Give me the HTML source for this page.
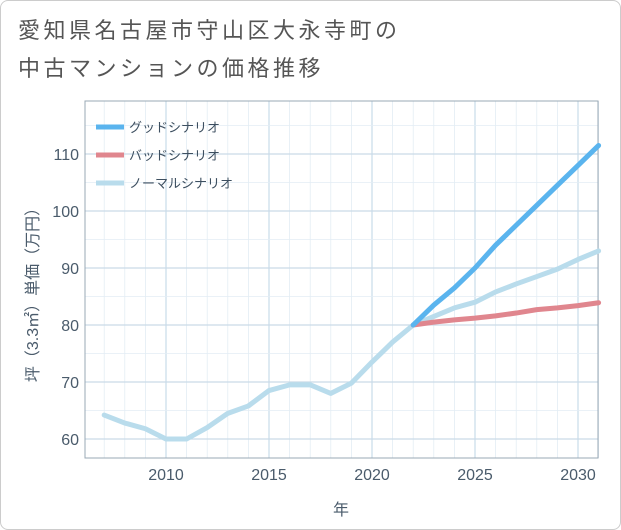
<!DOCTYPE html>
<html><head><meta charset="utf-8"><style>
body{margin:0;background:#fff;}
#wrap{position:relative;width:619px;height:528px;border:1px solid #ccc;border-radius:8px;background:#fff;overflow:hidden;font-family:"Liberation Sans","Noto Sans CJK JP",sans-serif;}
#title{position:absolute;left:17px;top:11px;font-size:22px;line-height:38px;letter-spacing:3.5px;color:#555;}
</style></head><body>
<div id="wrap">
<div id="title">愛知県名古屋市守山区大永寺町の<br>中古マンションの価格推移</div>
<svg id="chart" width="621" height="530" style="position:absolute;left:0;top:0"></svg>
</div>
<script>
const years=[2007,2008,2009,2010,2011,2012,2013,2014,2015,2016,2017,2018,2019,2020,2021,2022,2023,2024,2025,2026,2027,2028,2029,2030,2031];
const normalVals=[64.2,62.8,61.8,60,60,62,64.5,65.8,68.5,69.5,69.5,68,69.8,73.5,77,80,81.5,83,84,85.8,87.2,88.5,89.8,91.5,93];
const futureYears=[2022,2023,2024,2025,2026,2027,2028,2029,2030,2031];
const goodVals=[80,83.5,86.5,90,94,97.5,101,104.5,108,111.5];
const badVals=[80,80.5,80.9,81.2,81.6,82.1,82.7,83,83.4,83.9];
const xTicks=[2010,2015,2020,2025,2030];
const yTicks=[60,70,80,90,100,110];
const legendLabels=["グッドシナリオ","バッドシナリオ","ノーマルシナリオ"];
const legendColors=["#5ab4ee","#e0868e","#b9dcec"];

const L=84,R=597,T=100,B=457;
const x=v=>165+(v-2010)*20.6;
const y=v=>438-(v-60)*5.7;
const svg=document.getElementById('chart');
const NS='http://www.w3.org/2000/svg';
function mk(t,a){const e=document.createElementNS(NS,t);for(const k in a)e.setAttribute(k,a[k]);svg.appendChild(e);return e;}
for(let yr=2007;yr<=2031;yr++){
  const g=mk('line',{x1:x(yr),x2:x(yr),y1:T,y2:B,stroke:xTicks.includes(yr)?'#c9dbe8':'#e3edf4','stroke-width':xTicks.includes(yr)?1.2:0.8});
  
  
}
for(let v=60;v<=115;v+=5){
  const g=mk('line',{x1:L,x2:R,y1:y(v),y2:y(v),stroke:yTicks.includes(v)?'#c9dbe8':'#e3edf4','stroke-width':yTicks.includes(v)?1.2:0.8});
  
  
}
let r=mk('rect',{x:L,y:T,width:R-L,height:B-T,fill:'none',stroke:'#9aa8b4','stroke-width':1});


xTicks.forEach(t=>{const e=mk('text',{x:x(t),y:479,'text-anchor':'middle','font-size':16,fill:'#4a5b6b'});e.textContent=t;

});
yTicks.forEach(t=>{const e=mk('text',{x:78,y:y(t)+6,'text-anchor':'end','font-size':16,fill:'#4a5b6b'});e.textContent=t;

});
let xt=mk('text',{x:340,y:514,'text-anchor':'middle','font-size':16,fill:'#4a5b6b'});xt.textContent='年';


let yt=mk('text',{x:0,y:0,'text-anchor':'middle','font-size':16,fill:'#4a5b6b',transform:'translate(37,290) rotate(-90)'});yt.textContent='坪（3.3㎡）単価（万円）';


function line(xs,vs,c,name){const p=mk('polyline',{points:xs.map((a,i)=>x(a)+','+y(vs[i])).join(' '),fill:'none',stroke:c,'stroke-width':5,'stroke-linejoin':'round','stroke-linecap':'round'});

}
line(years,normalVals,legendColors[2],'normal-line');
line(futureYears,badVals,legendColors[1],'bad-line');
line(futureYears,goodVals,legendColors[0],'good-line');
legendLabels.forEach((lab,i)=>{const yy=126+i*28;
const l=mk('line',{x1:95,x2:123,y1:yy,y2:yy,stroke:legendColors[i],'stroke-width':5});


const t=mk('text',{x:128,y:yy+5,'font-size':13,fill:'#3d4f60'});t.textContent=lab;

});
</script>
</body></html>
